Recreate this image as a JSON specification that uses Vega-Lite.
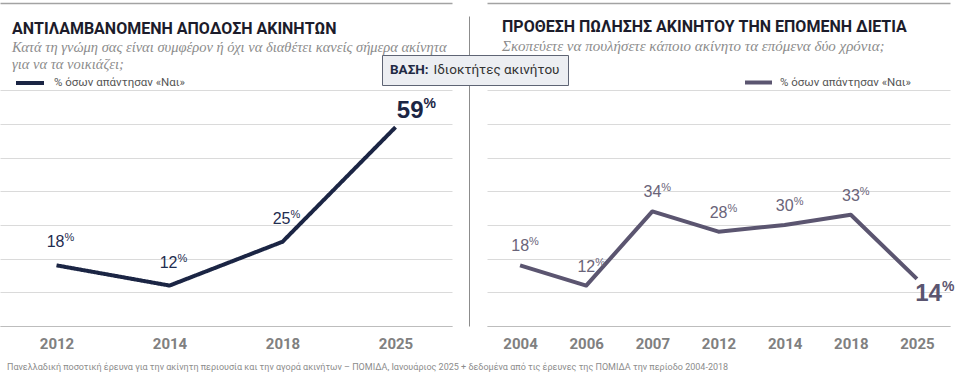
{
  "$schema": "https://vega.github.io/schema/vega-lite/v6.json",
  "background": "white",
  "padding": {"left": 0, "top": 2, "right": 0, "bottom": 2},
  "bounds": "flush",
  "spacing": 35,
  "config": {
    "view": {"stroke": null},
    "font": "Roboto",
    "title": {
      "font": "Roboto",
      "fontSize": 16,
      "fontWeight": "bold",
      "color": "#1c1c2b",
      "anchor": "start",
      "subtitleFont": "Liberation Serif",
      "subtitleFontStyle": "italic",
      "subtitleFontSize": 14.5,
      "subtitleColor": "#8c8c8c",
      "subtitlePadding": 4,
      "subtitleLineHeight": 17
    }
  },
  "title": {
    "text": "Πανελλαδική ποσοτική έρευνα για την ακίνητη περιουσία και την αγορά ακινήτων –  ΠΟΜΙΔΑ, Ιανουάριος 2025 + δεδομένα από τις έρευνες της ΠΟΜΙΔΑ την περίοδο 2004-2018",
    "orient": "bottom",
    "anchor": "start",
    "frame": "bounds",
    "fontSize": 9,
    "fontWeight": "normal",
    "color": "#8c8c8c",
    "font": "Roboto",
    "offset": 12,
    "dx": 7
  },
  "resolve": {"scale": {"color": "independent", "strokeDash": "independent"}},
  "hconcat": [
    {
      "width": 452,
      "height": 310,
      "title": {
        "text": "ΑΝΤΙΛΑΜΒΑΝΟΜΕΝΗ ΑΠΟΔΟΣΗ ΑΚΙΝΗΤΩΝ",
        "subtitle": ["Κατά τη γνώμη σας είναι συμφέρον ή όχι να διαθέτει κανείς σήμερα ακίνητα", "για να τα νοικιάζει;"],
        "dx": 12,
        "offset": -69
      },
      "data": {"values": [
        {"year": "2012", "value": 18},
        {"year": "2014", "value": 12},
        {"year": "2018", "value": 25},
        {"year": "2025", "value": 59}
      ]},
      "resolve": {"axis": {"x": "independent", "y": "independent"}},
      "layer": [
        {
          "mark": {"type": "line", "strokeWidth": 4, "strokeJoin": "round"},
          "encoding": {
            "x": {"field": "year", "type": "ordinal", "axis": {"orient": "bottom", "title": null, "labelAngle": 0, "domain": true, "domainColor": "#bdbdbd", "ticks": false, "grid": false, "labelFontSize": 15, "labelFontWeight": "bold", "labelColor": "#808080", "labelFont": "Roboto", "labelPadding": 10}},
            "y": {"field": "value", "type": "quantitative", "scale": {"domain": [0, 92], "nice": false}, "axis": {"orient": "left", "title": null, "values": [0, 10, 20, 30, 40, 50, 60, 70], "grid": true, "gridColor": "#dadada", "domain": false, "ticks": false, "labels": false}},
            "color": {"datum": "% όσων απάντησαν «Ναι»", "scale": {"range": ["#1b2544"]}, "legend": {"orient": "none", "legendX": 14, "legendY": 51, "title": null, "symbolType": "stroke", "symbolStrokeWidth": 4, "symbolSize": 784, "labelOffset": 8, "labelFontSize": 11.5, "labelColor": "#555555", "labelFont": "Roboto", "padding": 0}},
            "strokeDash": {"datum": "Ιδιοκτήτες ακινήτου", "scale": {"range": [[1, 0]]}, "legend": {"orient": "none", "legendX": 382, "legendY": 39, "title": "ΒΑΣΗ:", "titleOrient": "left", "titleFontSize": 13.5, "titleFontWeight": "bold", "titleColor": "#1f2a44", "titleFont": "Roboto", "titlePadding": 5, "labelFontSize": 13.5, "labelFont": "Roboto", "labelColor": "#333333", "symbolSize": 0, "symbolOpacity": 0, "symbolStrokeWidth": 0, "labelOffset": -14, "fillColor": "#eceef2", "strokeColor": "#5e6474", "padding": 8}}
          }
        },
        {
          "transform": [{"filter": "datum.year != '2025'"}],
          "mark": {"type": "text", "align": "right", "baseline": "middle", "dx": 8, "dy": -23, "fontSize": 16, "font": "Liberation Sans", "color": "#1f2d50"},
          "encoding": {
            "x": {"field": "year", "type": "ordinal", "axis": null},
            "y": {"field": "value", "type": "quantitative", "axis": null},
            "text": {"field": "value"}
          }
        },
        {
          "transform": [{"filter": "datum.year != '2025'"}],
          "mark": {"type": "text", "align": "left", "baseline": "middle", "dx": 8, "dy": -27, "fontSize": 11, "font": "Liberation Sans", "color": "#1f2d50"},
          "encoding": {
            "x": {"field": "year", "type": "ordinal", "axis": null},
            "y": {"field": "value", "type": "quantitative", "axis": null},
            "text": {"value": "%"}
          }
        },
        {
          "transform": [{"filter": "datum.year == '2025'"}],
          "mark": {"type": "text", "align": "right", "baseline": "middle", "dx": 28, "dy": -16, "fontSize": 24, "fontWeight": "bold", "font": "Liberation Sans", "color": "#1b2544"},
          "encoding": {
            "x": {"field": "year", "type": "ordinal", "axis": {"orient": "top", "offset": 13, "title": null, "domain": true, "domainColor": "#a3a3a3", "domainWidth": 1.5, "labels": true, "labelOpacity": 0, "labelFontSize": 1, "labelPadding": 0, "labelAngle": 0, "ticks": false, "grid": false}},
            "y": {"field": "value", "type": "quantitative", "axis": {"orient": "right", "offset": 17, "title": null, "domain": true, "domainColor": "#8c8c8c", "labels": false, "ticks": false, "grid": false}},
            "text": {"field": "value"}
          }
        },
        {
          "transform": [{"filter": "datum.year == '2025'"}],
          "mark": {"type": "text", "align": "left", "baseline": "middle", "dx": 28, "dy": -23, "fontSize": 14, "fontWeight": "bold", "font": "Liberation Sans", "color": "#1b2544"},
          "encoding": {
            "x": {"field": "year", "type": "ordinal", "axis": null},
            "y": {"field": "value", "type": "quantitative", "axis": null},
            "text": {"value": "%"}
          }
        }
      ]
    },
    {
      "width": 463,
      "height": 310,
      "title": {
        "text": "ΠΡΟΘΕΣΗ ΠΩΛΗΣΗΣ ΑΚΙΝΗΤΟΥ ΤΗΝ ΕΠΟΜΕΝΗ ΔΙΕΤΙΑ",
        "subtitle": ["Σκοπεύετε να πουλήσετε κάποιο ακίνητο τα επόμενα δύο χρόνια;"],
        "subtitleFontSize": 15,
        "dx": 15,
        "offset": -52
      },
      "data": {"values": [
        {"year": "2004", "value": 18},
        {"year": "2006", "value": 12},
        {"year": "2007", "value": 34},
        {"year": "2012", "value": 28},
        {"year": "2014", "value": 30},
        {"year": "2018", "value": 33},
        {"year": "2025", "value": 14}
      ]},
      "resolve": {"axis": {"x": "independent", "y": "independent"}},
      "layer": [
        {
          "mark": {"type": "line", "strokeWidth": 4, "strokeJoin": "round"},
          "encoding": {
            "x": {"field": "year", "type": "ordinal", "axis": {"orient": "bottom", "title": null, "labelAngle": 0, "domain": true, "domainColor": "#bdbdbd", "ticks": false, "grid": false, "labelFontSize": 15, "labelFontWeight": "bold", "labelColor": "#808080", "labelFont": "Roboto", "labelPadding": 10}},
            "y": {"field": "value", "type": "quantitative", "scale": {"domain": [0, 92], "nice": false}, "axis": {"orient": "left", "title": null, "values": [0, 10, 20, 30, 40, 50, 60, 70], "grid": true, "gridColor": "#dadada", "domain": false, "ticks": false, "labels": false}},
            "color": {"datum": "% όσων απάντησαν «Ναι»", "scale": {"range": ["#5b5570"]}, "legend": {"orient": "none", "legendX": 256, "legendY": 51, "title": null, "symbolType": "stroke", "symbolStrokeWidth": 4, "symbolSize": 729, "labelOffset": 6, "labelFontSize": 11.5, "labelColor": "#555555", "labelFont": "Roboto", "padding": 0}}
          }
        },
        {
          "transform": [{"filter": "datum.year != '2025'"}],
          "mark": {"type": "text", "align": "right", "baseline": "middle", "dx": 9, "dy": -19, "fontSize": 16, "font": "Liberation Sans", "color": "#6a6479"},
          "encoding": {
            "x": {"field": "year", "type": "ordinal", "axis": null},
            "y": {"field": "value", "type": "quantitative", "axis": null},
            "text": {"field": "value"}
          }
        },
        {
          "transform": [{"filter": "datum.year != '2025'"}],
          "mark": {"type": "text", "align": "left", "baseline": "middle", "dx": 9, "dy": -23, "fontSize": 11, "font": "Liberation Sans", "color": "#6a6479"},
          "encoding": {
            "x": {"field": "year", "type": "ordinal", "axis": null},
            "y": {"field": "value", "type": "quantitative", "axis": null},
            "text": {"value": "%"}
          }
        },
        {
          "transform": [{"filter": "datum.year == '2025'"}],
          "mark": {"type": "text", "align": "right", "baseline": "middle", "dx": 25, "dy": 15, "fontSize": 24, "fontWeight": "bold", "font": "Liberation Sans", "color": "#5b5570"},
          "encoding": {
            "x": {"field": "year", "type": "ordinal", "axis": {"orient": "top", "offset": 13, "title": null, "domain": true, "domainColor": "#a3a3a3", "domainWidth": 1.5, "labels": true, "labelOpacity": 0, "labelFontSize": 1, "labelPadding": 0, "labelAngle": 0, "ticks": false, "grid": false}},
            "y": {"field": "value", "type": "quantitative", "axis": null},
            "text": {"field": "value"}
          }
        },
        {
          "transform": [{"filter": "datum.year == '2025'"}],
          "mark": {"type": "text", "align": "left", "baseline": "middle", "dx": 25, "dy": 8, "fontSize": 14, "fontWeight": "bold", "font": "Liberation Sans", "color": "#5b5570"},
          "encoding": {
            "x": {"field": "year", "type": "ordinal", "axis": null},
            "y": {"field": "value", "type": "quantitative", "axis": null},
            "text": {"value": "%"}
          }
        }
      ]
    }
  ]
}
